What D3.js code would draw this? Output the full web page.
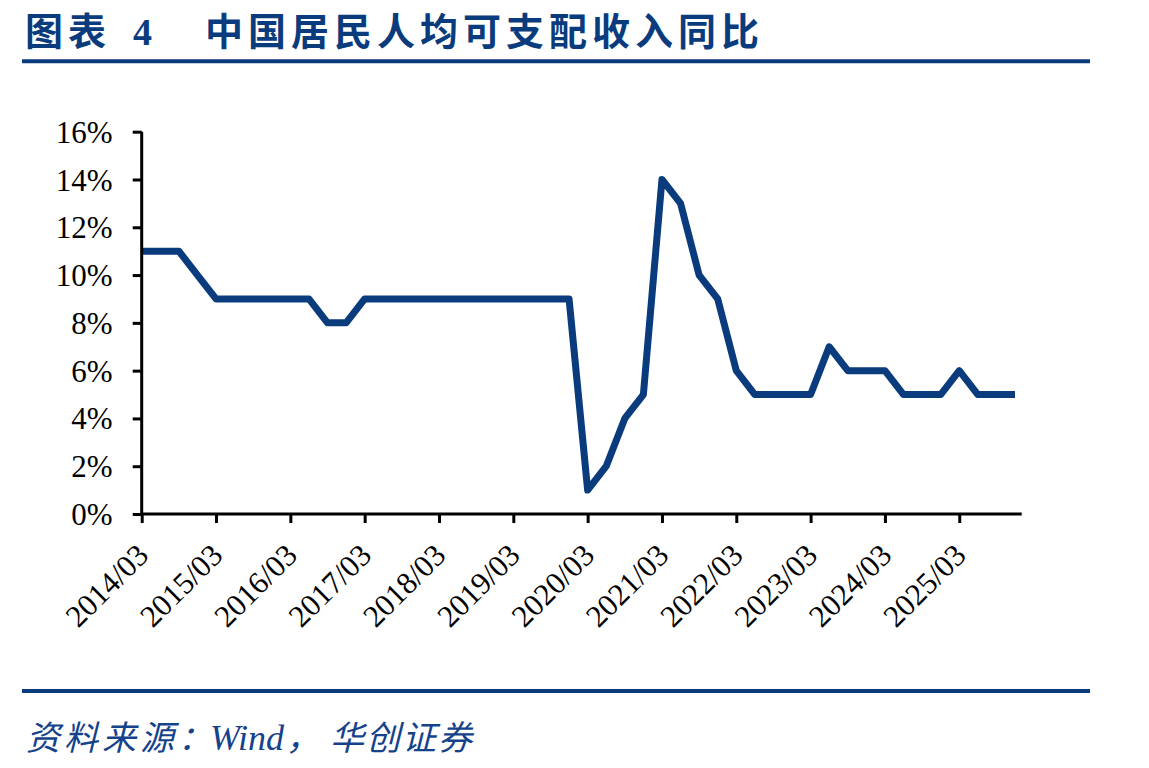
<!DOCTYPE html>
<html><head><meta charset="utf-8">
<script src="https://cdn.jsdelivr.net/npm/d3@7"></script>
<style>html,body{margin:0;padding:0;background:#fff;}svg{display:block;}</style>
</head><body>
<svg id="chart" width="1149" height="768"></svg>
<script>
// ---- data ----
const categories = [
 "2014/03","2014/06","2014/09","2014/12",
 "2015/03","2015/06","2015/09","2015/12",
 "2016/03","2016/06","2016/09","2016/12",
 "2017/03","2017/06","2017/09","2017/12",
 "2018/03","2018/06","2018/09","2018/12",
 "2019/03","2019/06","2019/09","2019/12",
 "2020/03","2020/06","2020/09","2020/12",
 "2021/03","2021/06","2021/09","2021/12",
 "2022/03","2022/06","2022/09","2022/12",
 "2023/03","2023/06","2023/09","2023/12",
 "2024/03","2024/06","2024/09","2024/12",
 "2025/03","2025/06","2025/09","2025/12"
];
const incomeYoY = [
 11,11,11,10,
 9,9,9,9,
 9,9,8,8,
 9,9,9,9,
 9,9,9,9,
 9,9,9,9,
 1,2,4,5,
 14,13,10,9,
 6,5,5,5,
 5,7,6,6,
 6,5,5,5,
 6,5,5,5
];
const xTickLabels = ["2014/03","2015/03","2016/03","2017/03","2018/03","2019/03","2020/03","2021/03","2022/03","2023/03","2024/03","2025/03"];
const yTicks = [0,2,4,6,8,10,12,14,16];
const titleText = "中国居民人均可支配收入同比";

// ---- layout ----
const svg = d3.select("#chart");
const navy = "#0a3c7d";
const plot = {left: 141.7, right: 1015, top: 131.7, bottom: 514};

const x = d3.scaleLinear().domain([0, categories.length - 1]).range([plot.left, plot.right]);
const y = d3.scaleLinear().domain([0, 16]).range([plot.bottom, plot.top]);

// title
const title = svg.append("text").attr("y", 45).attr("fill", navy)
  .style("font-family", "'Noto Sans CJK SC'").style("font-weight", "bold").style("font-size", "38px");
title.append("tspan").attr("x", 25).style("letter-spacing", "5px").text("图表");
title.append("tspan").attr("x", 133).style("font-family", "'Liberation Serif'").text("4");
title.append("tspan").attr("x", 205).style("letter-spacing", "5px").text(titleText);

// rules
svg.append("line").attr("x1", 22).attr("x2", 1090).attr("y1", 61.3).attr("y2", 61.3)
  .attr("stroke", navy).attr("stroke-width", 4);
svg.append("line").attr("x1", 22).attr("x2", 1090).attr("y1", 691).attr("y2", 691)
  .attr("stroke", navy).attr("stroke-width", 4);

// data line
const line = d3.line().x((d, i) => x(i)).y(d => y(d));
svg.append("path").datum(incomeYoY).attr("d", line)
  .attr("fill", "none").attr("stroke", navy).attr("stroke-width", 7)
  .attr("stroke-linejoin", "round").attr("stroke-linecap", "butt");

// y axis
const yAxis = d3.axisLeft(y).tickValues(yTicks).tickSize(9).tickFormat(d => d + "%");
const gy = svg.append("g").attr("transform", `translate(${plot.left},0)`).call(yAxis);
gy.select(".domain").attr("stroke", "#000").attr("stroke-width", 3)
  .attr("d", `M0,${plot.top}V${plot.bottom}`);
gy.selectAll(".tick line").attr("stroke", "#000").attr("stroke-width", 3);
gy.selectAll(".tick text").attr("x", -29).attr("dy", "0.34em")
  .style("font-family", "'Liberation Serif'").style("font-size", "31px").attr("fill", "#000");

// x axis
const tickIdx = xTickLabels.map(l => categories.indexOf(l));
const xAxis = d3.axisBottom(x).tickValues(tickIdx).tickSize(9).tickFormat(i => categories[i]);
const gx = svg.append("g").attr("transform", `translate(0,${plot.bottom})`).call(xAxis);
gx.select(".domain").attr("stroke", "#000").attr("stroke-width", 3)
  .attr("d", `M${plot.left - 1.5},0H${plot.right + 6.7}`);
gx.selectAll(".tick line").attr("stroke", "#000").attr("stroke-width", 3);
gx.selectAll(".tick text")
  .attr("y", 0).attr("dy", 0)
  .attr("transform", "translate(8,43) rotate(-45)")
  .attr("text-anchor", "end")
  .style("font-family", "'Liberation Serif'").style("font-size", "31px").attr("fill", "#000");

// source
const src = svg.append("text").attr("y", 750).attr("fill", "#15428a")
  .style("font-family", "'Noto Sans CJK SC'").style("font-style", "italic").style("font-size", "34px");
src.append("tspan").attr("x", 26).style("letter-spacing", "4px").text("资料来源：");
src.append("tspan").attr("x", 210).style("font-family", "'Liberation Serif'").style("font-size", "36px").text("Wind");
src.append("tspan").attr("x", 286).text("，");
src.append("tspan").attr("x", 330).style("letter-spacing", "2px").text("华创证券");
</script>
</body></html>
